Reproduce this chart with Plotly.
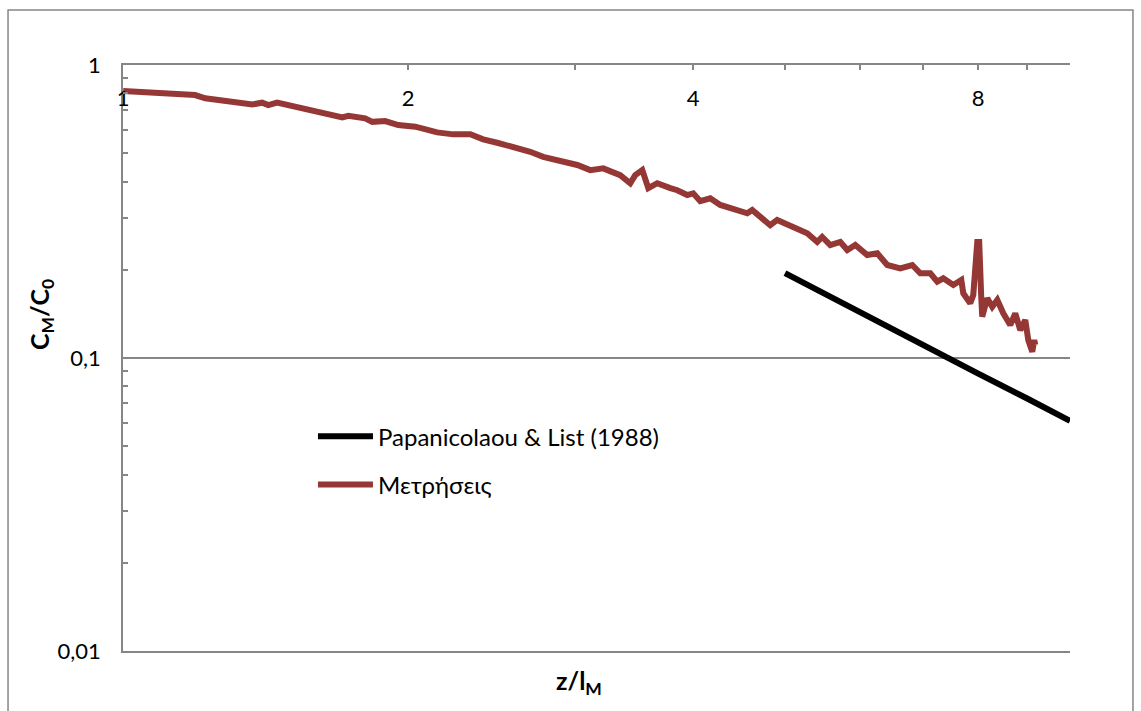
import plotly.graph_objects as go

# Measured data (Μετρήσεις)
z_meas = [1.000, 1.063, 1.154, 1.191, 1.221, 1.304, 1.369, 1.402, 1.423, 1.454,
          1.546, 1.635, 1.704, 1.729, 1.801, 1.833, 1.891, 1.952, 2.035, 2.146,
          2.231, 2.326, 2.400, 2.483, 2.545, 2.607, 2.691, 2.777, 2.874, 2.944,
          3.017, 3.114, 3.214, 3.349, 3.432, 3.474, 3.534, 3.586, 3.665, 3.783,
          3.848, 3.942, 4.000, 4.069, 4.169, 4.272, 4.409, 4.562, 4.617, 4.824,
          4.906, 5.064, 5.278, 5.408, 5.474, 5.582, 5.720, 5.818, 5.932, 6.107,
          6.258, 6.412, 6.618, 6.814, 6.948, 7.119, 7.241, 7.348, 7.529, 7.677,
          7.714, 7.846, 7.904, 7.981, 8.019, 8.058, 8.078, 8.177, 8.277, 8.379,
          8.502, 8.648, 8.754, 8.861, 8.969, 9.035, 9.123, 9.167, 9.190]
c_meas = [0.815, 0.807, 0.800, 0.790, 0.770, 0.749, 0.734, 0.744, 0.730, 0.744,
          0.711, 0.684, 0.663, 0.671, 0.658, 0.640, 0.644, 0.624, 0.616, 0.589,
          0.580, 0.581, 0.558, 0.543, 0.533, 0.519, 0.506, 0.486, 0.474, 0.468,
          0.456, 0.438, 0.444, 0.421, 0.395, 0.421, 0.438, 0.380, 0.395, 0.380,
          0.374, 0.360, 0.365, 0.343, 0.351, 0.333, 0.324, 0.312, 0.320, 0.284,
          0.296, 0.284, 0.2665, 0.249, 0.259, 0.243, 0.249, 0.2337, 0.243, 0.2247,
          0.2278, 0.2077, 0.2024, 0.2077, 0.1946, 0.1946, 0.1822, 0.1871, 0.1775, 0.1846,
          0.1663, 0.1537, 0.1641, 0.249, 0.249, 0.1619, 0.1384, 0.1599, 0.1496, 0.1578,
          0.1421, 0.1296, 0.1421, 0.1246, 0.1348, 0.1152, 0.1051, 0.1152, 0.1108]

# Papanicolaou & List (1988)
z_pl = [5, 6, 7, 8, 9, 10]
c_pl = [0.195, 0.143, 0.111, 0.0885, 0.0729, 0.061]

x_tickvals = [1, 2, 4, 8]
x_ticktext = ["1", "2", "4", "8"]
x_minor = [3, 5, 6, 7, 9, 10]
y_tickvals = [0.01, 0.1, 1]
y_ticktext = ["0,01", "0,1", "1"]
y_minor = [0.02, 0.03, 0.04, 0.05, 0.06, 0.07, 0.08, 0.09,
           0.2, 0.3, 0.4, 0.5, 0.6, 0.7, 0.8, 0.9]

FONT = "Lato"
AXIS_COL = "#868686"

fig = go.Figure()
fig.add_trace(go.Scatter(x=z_pl, y=c_pl, mode="lines", name="Papanicolaou & List (1988)",
                         legendgroup="a",
                         line=dict(color="black", width=6)))
fig.add_trace(go.Scatter(x=z_meas, y=c_meas, mode="lines", name="Μετρήσεις",
                         legendgroup="b",
                         line=dict(color="#953735", width=6)))

fig.update_layout(
    width=1141, height=711, autosize=False,
    margin=dict(l=123, r=71, t=65, b=60, pad=0),
    paper_bgcolor="white", plot_bgcolor="white",
    font=dict(family=FONT, color="black", size=22),
    showlegend=True,
    legend=dict(x=0.2006, y=0.404, xanchor="left", yanchor="top",
                font=dict(family=FONT, size=24, color="black"),
                bgcolor="rgba(0,0,0,0)", tracegroupgap=14, itemwidth=55),
    xaxis=dict(type="log", range=[-0.0002, 1], side="top",
               tickmode="array", tickvals=x_tickvals, ticktext=x_ticktext,
               ticks="inside", ticklen=5, tickcolor=AXIS_COL, tickwidth=1.5,
               ticklabelposition="inside", ticklabelstandoff=22,
               ticklabeloverflow="allow",
               tickfont=dict(family=FONT, size=22, color="black"),
               minor=dict(tickmode="array", tickvals=x_minor, ticks="inside",
                          ticklen=5, tickcolor=AXIS_COL, tickwidth=1.5, showgrid=False),
               showline=True, linecolor=AXIS_COL, linewidth=1.5, mirror=True,
               showgrid=False, zeroline=False),
    yaxis=dict(type="log", range=[-2, 0.0002],
               tickmode="array", tickvals=y_tickvals, ticktext=y_ticktext,
               ticks="", ticklabelstandoff=16, ticklabeloverflow="allow",
               tickfont=dict(family=FONT, size=22, color="black"),
               minor=dict(tickmode="array", tickvals=y_minor, ticks="inside",
                          ticklen=5, tickcolor=AXIS_COL, tickwidth=1.5, showgrid=False),
               showline=True, linecolor=AXIS_COL, linewidth=1.5, mirror=False,
               showgrid=True, gridcolor=AXIS_COL, gridwidth=1.5, zeroline=False),
    annotations=[
        dict(text="<b>z/l<sub>M</sub></b>", xref="paper", yref="paper",
             x=0.4815, y=-0.053, xanchor="center", yanchor="middle", showarrow=False,
             font=dict(family=FONT, size=25, color="black")),
        dict(text="<b>C<sub>M</sub>/C<sub>0</sub></b>", xref="paper", yref="paper",
             x=-0.0866, y=0.575, xanchor="center", yanchor="middle",
             showarrow=False, textangle=-90,
             font=dict(family=FONT, size=25, color="black")),
    ],
    shapes=[
        dict(type="rect", xref="paper", yref="paper",
             x0=-0.1214, x1=1.0665, y0=-0.13, y1=1.0939,
             line=dict(color=AXIS_COL, width=1.5), layer="below"),
    ],
)

fig.write_html("out.html")
